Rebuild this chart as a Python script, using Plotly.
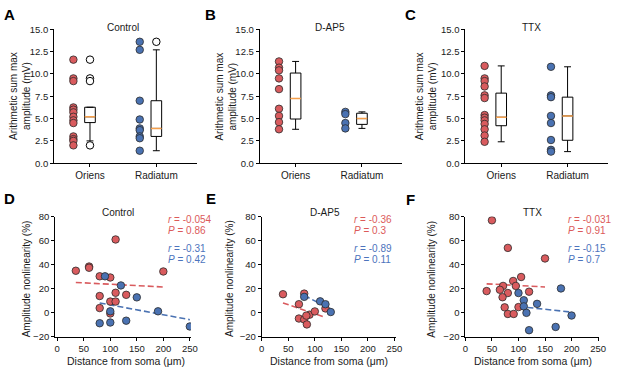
import numpy as np
import plotly.graph_objects as go

W, H = 617, 373
FONT = "Liberation Sans, Arial, sans-serif"
FS = 10
TICK_TOP = 9.5
TICK_BOT = 9.5
RED = "#d95b5e"
BLUE = "#4a72b2"
EDGE = "#2b2b2b"
ORANGE = "#f5a04c"
RED_TXT = "#dc5a5a"
BLUE_TXT = "#4d74bd"

# ---------------- data: top row (arithmetic sum max amplitude, mV) -------------
groups = ["Oriens", "Radiatum"]
top_ticks = [0.0, 2.5, 5.0, 7.5, 10.0, 12.5, 15.0]

ctrl_oriens = [11.6, 9.5, 9.2, 6.25, 6.0, 5.7, 5.2, 4.8, 4.5, 3.0, 2.7, 2.5, 2.0]
ctrl_radiatum = [13.6, 12.7, 7.0, 4.9, 3.9, 3.7, 3.0, 2.8, 1.4]
ctrl_q1 = [4.55, 3.0]
ctrl_med = [5.2, 3.9]
ctrl_q3 = [6.27, 7.0]
ctrl_lo = [2.5, 1.4]
ctrl_hi = [6.27, 12.7]

dap5_oriens = [11.4, 10.7, 10.4, 9.5, 8.3, 6.1, 5.3, 4.6, 3.8]
dap5_radiatum = [5.75, 5.5, 4.5, 3.9]
dap5_q1 = [4.95, 4.35]
dap5_med = [7.25, 5.0]
dap5_q3 = [10.1, 5.6]
dap5_lo = [3.8, 3.9]
dap5_hi = [11.4, 5.75]

ttx_oriens = [10.9, 9.5, 9.2, 8.6, 7.6, 7.3, 5.4, 5.1, 4.8, 4.4, 3.8, 3.1, 2.4]
ttx_radiatum = [10.8, 7.6, 7.4, 5.3, 4.5, 2.6, 1.5, 1.3]
ttx_q1 = [4.2, 2.57]
ttx_med = [5.15, 5.3]
ttx_q3 = [7.85, 7.4]
ttx_lo = [2.4, 1.3]
ttx_hi = [10.9, 10.8]

# ---------------- data: bottom row (distance um, nonlinearity %) --------------
ctrl_red_x = [35, 60, 60, 80, 100, 110, 80, 110, 130, 100, 110, 80, 100, 200]
ctrl_red_y = [35, 38.5, 37.5, 30.4, 29.4, 61, 14, 16.7, 15, 9.4, 9.4, 4, -0.5, 34.4]
ctrl_blue_x = [90, 120, 150, 100, 190, 80, 100, 130, 250]
ctrl_blue_y = [30.4, 22.8, 12.9, 1.3, 1.3, -8.6, -8, -6.5, -11.3]

dap5_red_x = [40, 80, 70, 70, 80, 90, 85, 100, 120, 84]
dap5_red_y = [15.5, 16, 7.2, -4.7, -5.5, -1.5, -9.6, 1.2, 3.7, -2.3]
dap5_blue_x = [80, 110, 120, 130]
dap5_blue_y = [13.3, 9.6, 7.2, 0.7]

ttx_red_x = [50, 80, 150, 105, 90, 71, 95, 65, 80, 40, 70, 74, 80, 91, 100, 120]
ttx_red_y = [76.9, 54, 45.2, 29.8, 26.5, 22.4, 22.4, 19.2, 16.5, 18.1, 13, 4.6, -0.9, -0.9, 4.8, 17.6]
ttx_blue_x = [100, 110, 110, 115, 135, 180, 120, 170, 200]
ttx_blue_y = [16.5, 10.5, 5.4, 0, 7.5, 20.3, -14.4, -11.7, -2.2]

stats_red = {"Control": ("-0.054", "0.86"), "D-AP5": ("-0.36", "0.3"), "TTX": ("-0.031", "0.91")}
stats_blue = {"Control": ("-0.31", "0.42"), "D-AP5": ("-0.89", "0.11"), "TTX": ("-0.15", "0.7")}
conditions = ["Control", "D-AP5", "TTX"]


def px(x):
    return x / W


def py(y):
    return 1 - y / H


fig = go.Figure()

# axis pixel layout
top_dom = [(52, 197), (261, 406), (470, 615)]
top_y = (24, 162)
bot_dom = [(53, 191), (263, 399), (470, 606)]
bot_xrange = [[-4, 252], [0, 252], [0, 252]]
bot_y = (217, 341)

axis_common = dict(showline=True, linecolor="black", linewidth=1, ticks="outside",
                   ticklen=3, tickwidth=1, tickcolor="black", showgrid=False,
                   zeroline=False, fixedrange=True)


def add_box_panel(k, oriens, radiatum, q1, med, q3, lo, hi):
    xa, ya = f"x{k}", f"y{k}"
    for i, (vals, color) in enumerate([(oriens, RED), (radiatum, BLUE)]):
        fig.add_trace(go.Scatter(x=[i - 0.25] * len(vals), y=vals, mode="markers",
                                 marker=dict(size=7.5, color=color, line=dict(color=EDGE, width=0.8)),
                                 xaxis=xa, yaxis=ya, showlegend=False, hoverinfo="skip"))
        fig.add_trace(go.Box(x=[i], q1=[q1[i]], median=[med[i]], q3=[q3[i]],
                             lowerfence=[lo[i]], upperfence=[hi[i]], width=0.16,
                             whiskerwidth=0.65, fillcolor="white", orientation="v",
                             line=dict(color="black", width=1), boxpoints=False,
                             xaxis=xa, yaxis=ya, showlegend=False, hoverinfo="skip"))
        fig.add_trace(go.Scatter(x=[i - 0.08, i + 0.08], y=[med[i], med[i]], mode="lines",
                                 line=dict(color=ORANGE, width=1.5),
                                 xaxis=xa, yaxis=ya, showlegend=False, hoverinfo="skip"))
        out = [v for v in vals if v > hi[i] + 0.05 or v < lo[i] - 0.05]
        if out:
            fig.add_trace(go.Scatter(x=[i] * len(out), y=out, mode="markers",
                                     marker=dict(size=7.5, color="white", line=dict(color="black", width=1)),
                                     xaxis=xa, yaxis=ya, showlegend=False, hoverinfo="skip"))


def add_scatter_panel(k, rx, ry, bx, by):
    xa, ya = f"x{k}", f"y{k}"
    for xs, ys, color in [(rx, ry, RED), (bx, by, BLUE)]:
        slope, icpt = np.polyfit(xs, ys, 1)
        lx = np.array([min(xs), max(xs)])
        fig.add_trace(go.Scatter(x=lx, y=slope * lx + icpt, mode="lines",
                                 line=dict(color=color, width=1.6, dash="6px,3px"),
                                 xaxis=xa, yaxis=ya, showlegend=False, hoverinfo="skip"))
    for xs, ys, color in [(rx, ry, RED), (bx, by, BLUE)]:
        fig.add_trace(go.Scatter(x=xs, y=ys, mode="markers",
                                 marker=dict(size=7.5, color=color, line=dict(color=EDGE, width=0.8)),
                                 xaxis=xa, yaxis=ya, showlegend=False, hoverinfo="skip"))


add_box_panel(1, ctrl_oriens, ctrl_radiatum, ctrl_q1, ctrl_med, ctrl_q3, ctrl_lo, ctrl_hi)
add_box_panel(2, dap5_oriens, dap5_radiatum, dap5_q1, dap5_med, dap5_q3, dap5_lo, dap5_hi)
add_box_panel(3, ttx_oriens, ttx_radiatum, ttx_q1, ttx_med, ttx_q3, ttx_lo, ttx_hi)
add_scatter_panel(4, ctrl_red_x, ctrl_red_y, ctrl_blue_x, ctrl_blue_y)
add_scatter_panel(5, dap5_red_x, dap5_red_y, dap5_blue_x, dap5_blue_y)
add_scatter_panel(6, ttx_red_x, ttx_red_y, ttx_blue_x, ttx_blue_y)

layout = dict(width=W, height=H, margin=dict(l=0, r=0, t=0, b=0),
              paper_bgcolor="white", plot_bgcolor="white",
              font=dict(family=FONT, size=FS, color="#1a1a1a"), showlegend=False)

tf_top = dict(size=TICK_TOP, color="#1a1a1a", family=FONT)
tf_bot = dict(size=TICK_BOT, color="#1a1a1a", family=FONT)
for j in range(3):
    k = j + 1
    sfx = "" if k == 1 else str(k)
    layout["xaxis" + sfx] = dict(axis_common, domain=[px(top_dom[j][0]), px(top_dom[j][1])],
                                 range=[-0.54, 1.61], type="linear", tickvals=[0, 1],
                                 ticktext=groups, anchor="y" + sfx,
                                 tickfont=dict(size=10, color="#1a1a1a", family=FONT))
    layout["yaxis" + sfx] = dict(axis_common, domain=[py(top_y[1]), py(top_y[0])],
                                 range=[0, 15], tickvals=top_ticks, tickformat=".1f",
                                 anchor="x" + sfx, tickfont=tf_top)
for j in range(3):
    k = j + 4
    sfx = str(k)
    layout["xaxis" + sfx] = dict(axis_common, domain=[px(bot_dom[j][0]), px(bot_dom[j][1])],
                                 range=bot_xrange[j], tickvals=[0, 50, 100, 150, 200, 250],
                                 anchor="y" + sfx, tickfont=tf_bot)
    layout["yaxis" + sfx] = dict(axis_common, domain=[py(bot_y[1]), py(bot_y[0])],
                                 range=[-20, 80], tickvals=[-20, 0, 20, 40, 60, 80],
                                 anchor="x" + sfx, tickfont=tf_bot)

ann = []


def add_text(x, y, text, size=FS, color="#1a1a1a", xanchor="center", angle=0, bold=False):
    ann.append(dict(x=px(x), y=py(y), xref="paper", yref="paper", text=f"<b>{text}</b>" if bold else text,
                    showarrow=False, xanchor=xanchor, yanchor="middle", textangle=angle,
                    font=dict(size=size, color=color, family=FONT)))


# panel letters
for letter, (x, y) in zip("ABCDEF", [(7, 9), (211, 9), (414, 9), (7, 198), (211, 198), (414, 199)]):
    add_text(x, y, letter, size=15, color="black", bold=True)

# titles
for name, (x, y) in zip(conditions, [(122, 22), (332, 22), (537, 22)]):
    add_text(x, y, name)
for name, (x, y) in zip(conditions, [(117, 213), (327, 213), (538, 213)]):
    add_text(x, y, name)

# y-axis titles
for x in [18, 227, 430]:
    add_text(x, 93, "Arithmetic sum max<br>amplitude (mV)", angle=-90)
for x in [24, 230, 436]:
    add_text(x, 281, "Amplitude nonlinearity (%)", angle=-90)

# x-axis titles bottom
for x in [125, 331, 539]:
    add_text(x, 366, "Distance from soma (\u03bcm)", size=10.5)

# r / P stats
for name, x in zip(conditions, [166, 355, 572]):
    r, p = stats_red[name]
    add_text(x, 219.5, f"<i>r</i> = {r}", color=RED_TXT, xanchor="left")
    add_text(x, 231, f"<i>P</i> = {p}", color=RED_TXT, xanchor="left")
    r, p = stats_blue[name]
    add_text(x, 250, f"<i>r</i> = {r}", color=BLUE_TXT, xanchor="left")
    add_text(x, 261.5, f"<i>P</i> = {p}", color=BLUE_TXT, xanchor="left")

layout["annotations"] = ann
fig.update_layout(**layout)
fig.write_html("out.html", config={"displayModeBar": False, "staticPlot": True},
               post_script="document.body.style.margin='0';document.body.style.overflow='hidden';")
